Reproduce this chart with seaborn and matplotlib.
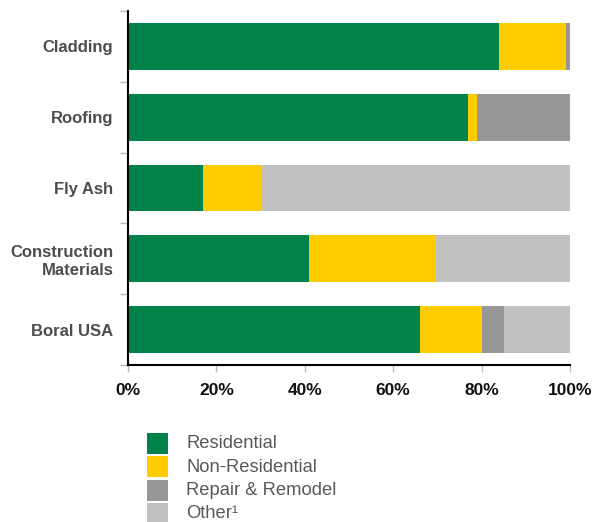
import matplotlib
matplotlib.use("Agg")
import matplotlib.pyplot as plt
from matplotlib.patches import Rectangle
import seaborn as sns
import pandas as pd
import numpy as np

sns.set_style("white")
plt.rcParams["font.family"] = ["Liberation Sans", "DejaVu Sans"]

categories = ["Cladding", "Roofing", "Fly Ash", "Construction\nMaterials", "Boral USA"]
series_names = ["Residential", "Non-Residential", "Repair & Remodel", "Other\u00b9"]
residential = [84, 77, 17, 41, 66]
non_residential = [15, 2, 13, 28.5, 14]
repair_remodel = [1, 21, 0, 0, 5]
other = [0, 0, 70, 30.5, 15]
colors = ["#00824A", "#FFCC00", "#979797", "#C1C1C1"]
x_ticks = [0, 20, 40, 60, 80, 100]
x_tick_labels = ["0%", "20%", "40%", "60%", "80%", "100%"]

df = pd.DataFrame({
    "category": categories,
    "Residential": residential,
    "Non-Residential": non_residential,
    "Repair & Remodel": repair_remodel,
    "Other": other,
})
layers = ["Residential", "Non-Residential", "Repair & Remodel", "Other"]
cum = df[layers].cumsum(axis=1).assign(category=df["category"])

W, H = 598, 522
fig = plt.figure(figsize=(W / 100, H / 100), dpi=100)
ax = fig.add_axes([128 / W, 1 - 365 / H, (570 - 128) / W, (365 - 11) / H])

# stacked bars: draw cumulative totals from the outermost segment inward
for layer, color in reversed(list(zip(layers, colors))):
    sns.barplot(data=cum, x=layer, y="category",
                orient="h", color=color, width=0.66, ax=ax, saturation=1,
                linewidth=0, order=categories)

ax.set_xlim(0, 100)
ax.set_ylim(4.5, -0.5)
ax.set_xlabel("")
ax.set_ylabel("")
ax.set_xticks(x_ticks)
ax.set_xticklabels(x_tick_labels, fontsize=12.5, fontweight="bold", color="#111111")
ax.set_yticks(np.arange(len(categories)))
ax.set_yticklabels(categories, fontsize=12, fontweight="bold", color="#4D4D4D")
ax.tick_params(axis="y", which="major", left=True, length=0, pad=10.5)
ax.tick_params(axis="x", bottom=True, length=5, color="#BBBBBB", width=1, pad=8)

# minor ticks on the category axis mark the band boundaries
ax.set_yticks(np.arange(-0.5, len(categories), 1.0), minor=True)
ax.tick_params(axis="y", which="minor", left=True, length=6, color="#BBBBBB", width=1)

for s in ["top", "right"]:
    ax.spines[s].set_visible(False)
for s in ["left", "bottom"]:
    ax.spines[s].set_color("black")
    ax.spines[s].set_linewidth(1.5)

# legend
for i, (name, color) in enumerate(zip(series_names, colors)):
    y_top = 433 + i * 23.3
    fig.add_artist(Rectangle((147 / W, 1 - (y_top + 21) / H), 21 / W, 21 / H,
                             transform=fig.transFigure, facecolor=color,
                             edgecolor="none"))
    fig.text(186 / W, 1 - (y_top + 11) / H, name, fontsize=13.2, color="#595959",
             va="center", ha="left")

fig.savefig("out.png", dpi=100)
